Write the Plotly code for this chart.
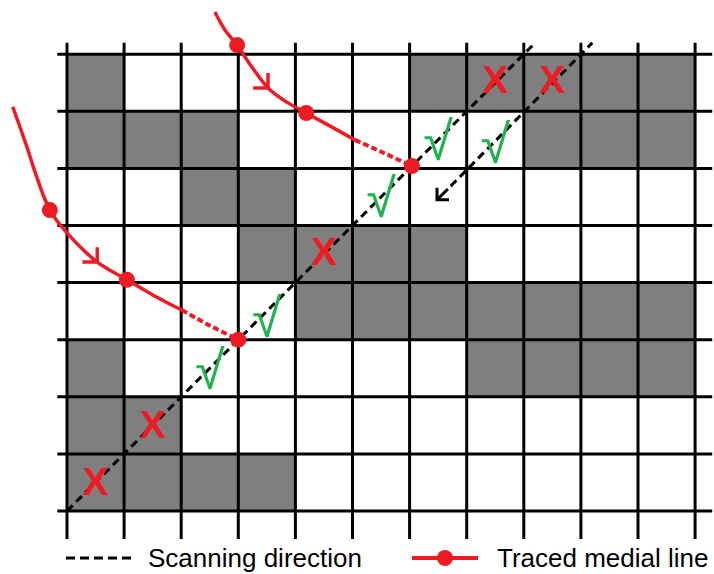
import plotly.graph_objects as go

# ---- data ----
n_cols = 11
n_rows = 8
# gray cells, rows listed from bottom (y=0) to top (y=7)
cells = [
    [1, 1, 1, 1, 0, 0, 0, 0, 0, 0, 0],
    [1, 1, 0, 0, 0, 0, 0, 0, 0, 0, 0],
    [1, 0, 0, 0, 0, 0, 0, 1, 1, 1, 1],
    [0, 0, 0, 0, 1, 1, 1, 1, 1, 1, 1],
    [0, 0, 0, 1, 1, 1, 1, 0, 0, 0, 0],
    [0, 0, 1, 1, 0, 0, 0, 0, 0, 0, 0],
    [1, 1, 1, 0, 0, 0, 0, 0, 1, 1, 1],
    [1, 0, 0, 0, 0, 0, 1, 1, 1, 1, 1],
]

scan1_x = [0, 8.2]
scan1_y = [0, 8.2]
scan2_x = [6.72, 9.2]
scan2_y = [5.69, 8.2]
scan_arrow_tip = (6.48, 5.45)

# traced medial line A (top)
medA_solid_x = [2.59, 2.77, 2.98, 3.20, 3.52, 3.85, 4.19, 4.61, 5.04]
medA_solid_y = [8.74, 8.42, 8.16, 7.83, 7.41, 7.16, 6.97, 6.74, 6.50]
medA_dot_x = [5.04, 5.55, 6.04]
medA_dot_y = [6.50, 6.27, 6.04]
medA_mark_x = [2.98, 4.19, 6.04]
medA_mark_y = [8.16, 6.97, 6.04]
medA_arrow = (3.52, 7.41)

# traced medial line B (left)
medB_solid_x = [-0.95, -0.70, -0.53, -0.30, 0.0, 0.53, 1.05, 1.51, 2.01]
medB_solid_y = [7.08, 6.37, 5.85, 5.27, 4.87, 4.36, 4.05, 3.78, 3.52]
medB_dot_x = [2.01, 2.50, 3.0]
medB_dot_y = [3.52, 3.25, 3.0]
medB_mark_x = [-0.30, 1.05, 3.0]
medB_mark_y = [5.27, 4.05, 3.0]
medB_arrow = (0.53, 4.36)

check_x = [2.5, 3.5, 5.5, 6.5, 7.5]
check_y = [2.38, 3.28, 5.38, 6.38, 6.33]
cross_x = [0.5, 1.5, 4.5, 7.5, 8.5]
cross_y = [0.45, 1.45, 4.48, 7.5, 7.5]

legend_labels = ["Scanning direction", "Traced medial line"]

RED = "#ED1C24"
GREEN = "#22B14C"
GRAY = "#7F7F7F"
FONT = "Liberation Sans, Arial, sans-serif"

fig = go.Figure()

# cells
fig.add_trace(go.Heatmap(
    z=cells,
    x=[c + 0.5 for c in range(n_cols)],
    y=[r + 0.5 for r in range(n_rows)],
    colorscale=[[0, "white"], [1, GRAY]],
    zmin=0, zmax=1, showscale=False, hoverinfo="skip",
))

# grid lines
gx, gy = [], []
for c in range(n_cols + 1):
    gx += [c, c, None]
    gy += [-0.49, n_rows + 0.2, None]
for r in range(n_rows + 1):
    gx += [-0.17, n_cols + 0.3, None]
    gy += [r, r, None]
fig.add_trace(go.Scatter(x=gx, y=gy, mode="lines",
                         line=dict(color="black", width=3),
                         hoverinfo="skip", showlegend=False))

# scanning lines
for sx, sy in [(scan1_x, scan1_y), (scan2_x, scan2_y)]:
    fig.add_trace(go.Scatter(x=sx, y=sy, mode="lines",
                             line=dict(color="black", width=3, dash="8px,5px"),
                             hoverinfo="skip", showlegend=False))
# scanning-direction arrow: short stem + open chevron pointing down-left
tx, ty = scan_arrow_tip
arm_k = 0.21
fig.add_trace(go.Scatter(
    x=[tx + 0.19, tx, None, tx, tx, tx + arm_k],
    y=[ty + 0.19, ty, None, ty + arm_k, ty, ty],
    mode="lines", line=dict(color="black", width=3),
    hoverinfo="skip", showlegend=False))

# check marks and crosses
fig.add_trace(go.Scatter(x=check_x, y=check_y, mode="text", text=["√"] * len(check_x),
                         textfont=dict(color=GREEN, size=54, family=FONT),
                         textposition="middle center", hoverinfo="skip", showlegend=False))
fig.add_trace(go.Scatter(x=cross_x, y=cross_y, mode="text", text=["<b>X</b>"] * len(cross_x),
                         textfont=dict(color=RED, size=39, family=FONT),
                         textposition="middle center", hoverinfo="skip", showlegend=False))

# traced medial lines
arm_r = 0.26
for sx, sy, dx, dy, mx, my, (axp, ayp) in [
    (medA_solid_x, medA_solid_y, medA_dot_x, medA_dot_y, medA_mark_x, medA_mark_y, medA_arrow),
    (medB_solid_x, medB_solid_y, medB_dot_x, medB_dot_y, medB_mark_x, medB_mark_y, medB_arrow),
]:
    fig.add_trace(go.Scatter(x=sx, y=sy, mode="lines", line=dict(color=RED, width=3.5, shape="spline"),
                             hoverinfo="skip", showlegend=False))
    fig.add_trace(go.Scatter(x=dx, y=dy, mode="lines",
                             line=dict(color=RED, width=4, dash="6px,3px", shape="spline"),
                             hoverinfo="skip", showlegend=False))
    # open chevron pointing along the curve (down-right)
    fig.add_trace(go.Scatter(x=[axp, axp, axp - arm_r], y=[axp * 0 + ayp + arm_r, ayp, ayp],
                             mode="lines", line=dict(color=RED, width=3.5),
                             hoverinfo="skip", showlegend=False))
    fig.add_trace(go.Scatter(x=mx, y=my, mode="markers", marker=dict(color=RED, size=16),
                             hoverinfo="skip", showlegend=False))

# legend (drawn manually)
W, H = 714, 574
ly = 1 - 558 / H
fig.add_shape(type="line", xref="paper", yref="paper", x0=66 / W, x1=131 / W, y0=ly, y1=ly,
              line=dict(color="black", width=3, dash="9px,5px"))
fig.add_annotation(xref="paper", yref="paper", x=146 / W, y=ly, text=legend_labels[0],
                   showarrow=False, xanchor="left", yanchor="middle",
                   font=dict(size=26, color="black", family=FONT))
fig.add_shape(type="line", xref="paper", yref="paper", x0=412 / W, x1=478 / W, y0=ly, y1=ly,
              line=dict(color=RED, width=4))
fig.add_shape(type="circle", xref="paper", yref="paper",
              x0=437 / W, x1=453 / W, y0=ly - 8 / H, y1=ly + 8 / H,
              fillcolor=RED, line=dict(width=0))
fig.add_annotation(xref="paper", yref="paper", x=495 / W, y=ly, text=legend_labels[1],
                   showarrow=False, xanchor="left", yanchor="middle",
                   font=dict(size=26, color="black", family=FONT))

s = 57.1
fig.update_layout(
    width=W, height=H, margin=dict(l=0, r=0, t=0, b=0),
    paper_bgcolor="white", plot_bgcolor="white",
    xaxis=dict(range=[-67 / s, (W - 67) / s], visible=False, fixedrange=True),
    yaxis=dict(range=[-(H - 511) / s, 511 / s], visible=False, fixedrange=True),
    showlegend=False,
)

fig.write_html("out.html", config={"displayModeBar": False},
               post_script="document.body.style.margin='0px';")
